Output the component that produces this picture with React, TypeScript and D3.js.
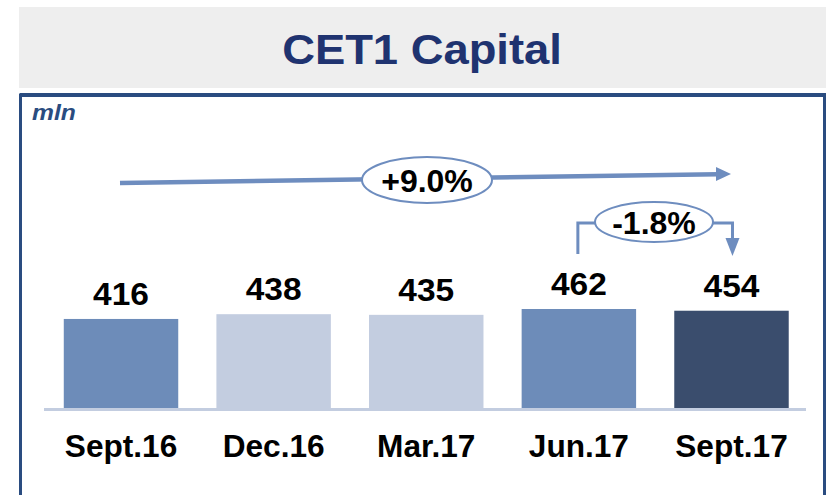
import React from "react";
import * as d3 from "d3";

const categories = ["Sept.16", "Dec.16", "Mar.17", "Jun.17", "Sept.17"];
const values = [416, 438, 435, 462, 454];
const barColors = ["#6d8cb9", "#c3cde0", "#c3cde0", "#6d8cb9", "#3a4d6d"];
const titleText = "CET1 Capital";
const unitText = "mln";
const totalChange = "+9.0%";
const lastChange = "-1.8%";

const W = 826;
const H = 495;
const ARROW = "#6e8dbf";

function SText(props: { x: number; y: number; sx?: number; size: number; fill?: string; italic?: boolean; anchor?: string; children: React.ReactNode }) {
  const sx = props.sx ?? 1;
  return (
    <text
      transform={`translate(${props.x},${props.y}) scale(${sx},1)`}
      textAnchor={props.anchor ?? "middle"}
      fontSize={props.size}
      fontWeight="bold"
      fontStyle={props.italic ? "italic" : "normal"}
      fill={props.fill ?? "#000"}
    >
      {props.children}
    </text>
  );
}

export default function App() {
  const x = d3.scaleBand<string>().domain(categories).range([44.7, 807.8]).paddingInner(0.25).paddingOuter(0.125);
  const y = d3.scaleLinear().domain([0, 462]).range([409, 309]);
  const font = "Arial, 'Liberation Sans', sans-serif";

  const c4 = (x(categories[3]) ?? 0) + x.bandwidth() / 2;
  const c5 = (x(categories[4]) ?? 0) + x.bandwidth() / 2;

  return (
    <svg width={W} height={H} style={{ position: "absolute", left: 0, top: 0 }} fontFamily={font}>
      <rect x={0} y={0} width={W} height={H} fill="#ffffff" />
      {/* header */}
      <rect x={19} y={7} width={W - 19} height={81} fill="#eeeeee" />
      <SText x={422} y={64} size={42} sx={1.08} fill="#1f3370">{titleText}</SText>
      {/* frame */}
      <path d={`M20.5,${H} L20.5,95 L824.5,95 L824.5,${H}`} fill="none" stroke="#2a4c80" strokeWidth={3} />
      <line x1={20} x2={826} y1={95} y2={95} stroke="#2a4c80" strokeWidth={4} />
      <SText x={32} y={120} size={22} sx={1.12} italic anchor="start" fill="#2a4c80">{unitText}</SText>

      {/* bars */}
      {categories.map((c, i) => (
        <g key={c}>
          <rect x={x(c)} y={y(values[i])} width={x.bandwidth()} height={y(0) - y(values[i])} fill={barColors[i]} />
          <SText x={(x(c) ?? 0) + x.bandwidth() / 2} y={y(values[i]) - 14} size={31} sx={1.08}>{values[i]}</SText>
          <SText x={(x(c) ?? 0) + x.bandwidth() / 2} y={457} size={31} sx={1.02}>{c}</SText>
        </g>
      ))}
      <line x1={44} x2={806} y1={409.5} y2={409.5} stroke="#c3cde0" strokeWidth={3} />

      {/* total change arrow */}
      <line x1={120} y1={183} x2={718} y2={174.2} stroke={ARROW} strokeWidth={4.5} />
      <polygon points="731,174 716,167 716,181" fill={ARROW} />
      <ellipse cx={427} cy={180} rx={65} ry={23} fill="#fff" stroke={ARROW} strokeWidth={2} />
      <SText x={427} y={191.5} size={32}>{totalChange}</SText>

      {/* last change bracket */}
      <path d={`M${c4 - 1},254 L${c4 - 1},223 L610,223`} fill="none" stroke={ARROW} strokeWidth={3} />
      <path d={`M700,223 L${c5 + 1},223 L${c5 + 1},240`} fill="none" stroke={ARROW} strokeWidth={3} />
      <polygon points={`${c5 + 1},256 ${c5 - 6},238 ${c5 + 8},238`} fill={ARROW} />
      <ellipse cx={654} cy={222} rx={59} ry={20} fill="#fff" stroke={ARROW} strokeWidth={2} />
      <SText x={654} y={233.5} size={32}>{lastChange}</SText>
    </svg>
  );
}
